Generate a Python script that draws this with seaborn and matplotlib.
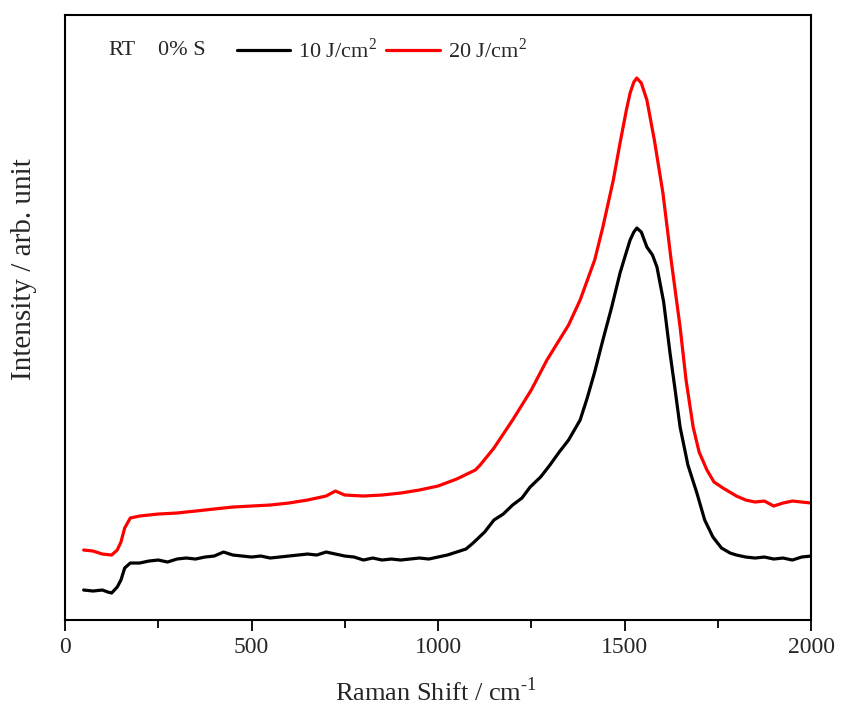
import numpy as np
import pandas as pd
import matplotlib
matplotlib.use("Agg")
import matplotlib.pyplot as plt
from matplotlib.ticker import MultipleLocator, NullLocator
from matplotlib.lines import Line2D
import seaborn as sns

# Raman spectra (arbitrary intensity units)
shift_10 = [50, 75, 100, 115, 125, 140, 150, 160, 175, 200, 225, 250, 275, 300, 325, 350,
            375, 400, 425, 450, 475, 500, 525, 550, 575, 600, 625, 650, 675, 700, 725,
            750, 775, 800, 825, 850, 875, 900, 925, 950, 975, 1000, 1025, 1050, 1075,
            1094, 1125, 1150, 1175, 1200, 1225, 1247, 1275, 1300, 1325, 1350, 1381,
            1400, 1420, 1442, 1465, 1488, 1505, 1515, 1525, 1533, 1545, 1560, 1575,
            1587, 1605, 1622, 1635, 1649, 1670, 1694, 1715, 1737, 1760, 1783, 1800,
            1825, 1850, 1875, 1900, 1925, 1950, 1975, 2000]
inten_10 = [30, 29, 30, 28, 27, 33, 40, 52, 57, 57, 59, 60, 58, 61, 62, 61,
            63, 64, 68, 65, 64, 63, 64, 62, 63, 64, 65, 66, 65, 68, 66,
            64, 63, 60, 62, 60, 61, 60, 61, 62, 61, 63, 65, 68, 71,
            77, 88, 100, 106, 115, 122, 133, 143, 155, 168, 180, 200,
            222, 248, 280, 312, 347, 368, 380, 388, 392, 388, 373, 365,
            353, 318, 267, 232, 193, 155, 127, 100, 83, 72, 67, 65,
            63, 62, 63, 61, 62, 60, 63, 64]

shift_20 = [50, 75, 100, 125, 140, 150, 160, 175, 200, 250, 300, 350, 400, 450, 500,
            550, 600, 650, 700, 725, 750, 800, 850, 900, 950, 1000, 1050, 1100, 1113,
            1150, 1200, 1250, 1292, 1350, 1381, 1420, 1442, 1470, 1488, 1505, 1515,
            1525, 1533, 1545, 1560, 1580, 1603, 1625, 1649, 1665, 1684, 1700, 1721,
            1740, 1764, 1800, 1825, 1850, 1875, 1900, 1925, 1950, 1975, 2000]
inten_20 = [70, 69, 66, 65, 70, 78, 92, 102, 104, 106, 107, 109, 111, 113, 114,
            115, 117, 120, 124, 129, 125, 124, 125, 127, 130, 134, 141, 150, 155,
            172, 200, 230, 260, 295, 320, 360, 393, 440, 477, 510, 527,
            538, 542, 537, 520, 480, 427, 360, 293, 240, 193, 168, 150,
            138, 132, 124, 120, 118, 119, 114, 117, 119, 118, 117]

fluence_labels = ["10 J/cm$^2$", "20 J/cm$^2$"]
line_colors = ["#000000", "#ff0000"]

df = pd.concat([
    pd.DataFrame({"shift": shift_10, "intensity": inten_10, "fluence": fluence_labels[0]}),
    pd.DataFrame({"shift": shift_20, "intensity": inten_20, "fluence": fluence_labels[1]}),
], ignore_index=True)

sns.set_style("ticks")
plt.rcParams["font.family"] = ["Liberation Serif", "DejaVu Serif"]
plt.rcParams["mathtext.fontset"] = "custom"
plt.rcParams["mathtext.rm"] = "Liberation Serif"

fig = plt.figure(figsize=(8.42, 7.13), dpi=100)
ax = fig.add_axes([0.0772, 0.1304, 0.886, 0.8485])

sns.lineplot(data=df, x="shift", y="intensity", hue="fluence",
             palette=dict(zip(fluence_labels, line_colors)),
             linewidth=2.3, ax=ax, legend=False, sort=False, estimator=None)

ax.set_xlim(0, 2000)
ax.set_ylim(0, 605)
ax.xaxis.set_major_locator(MultipleLocator(500))
ax.xaxis.set_minor_locator(MultipleLocator(250))
ax.yaxis.set_major_locator(NullLocator())
ax.tick_params(axis="x", which="major", direction="out", length=8, width=1.3,
               labelsize=17, pad=4, color="black")
ax.tick_params(axis="x", which="minor", direction="out", length=6, width=1.3, color="black")
for sp in ax.spines.values():
    sp.set_visible(True)
    sp.set_linewidth(1.5)
    sp.set_color("black")

ax.set_xlabel(r"Raman Shift / cm$^{\text{-1}}$", fontsize=19)
ax.set_ylabel("Intensity / arb. unit", fontsize=21)
ax.xaxis.set_label_coords(0.497, -0.094)
ax.yaxis.set_label_coords(-0.0375, 0.58)

ax.text(0.0576, 0.942, "RT", transform=ax.transAxes, fontsize=16,
        ha="left", va="center")
ax.text(0.1247, 0.942, "0% S", transform=ax.transAxes, fontsize=16,
        ha="left", va="center")
handles = [Line2D([], [], color=c, linewidth=2.3) for c in line_colors]
ax.legend(handles, fluence_labels, loc="center left", bbox_to_anchor=(0.2306, 0.942),
          ncol=2, frameon=False, fontsize=16, handlelength=2.4, handletextpad=0.36,
          columnspacing=0.4, borderaxespad=0, borderpad=0)

fig.savefig("out.png", dpi=100)
